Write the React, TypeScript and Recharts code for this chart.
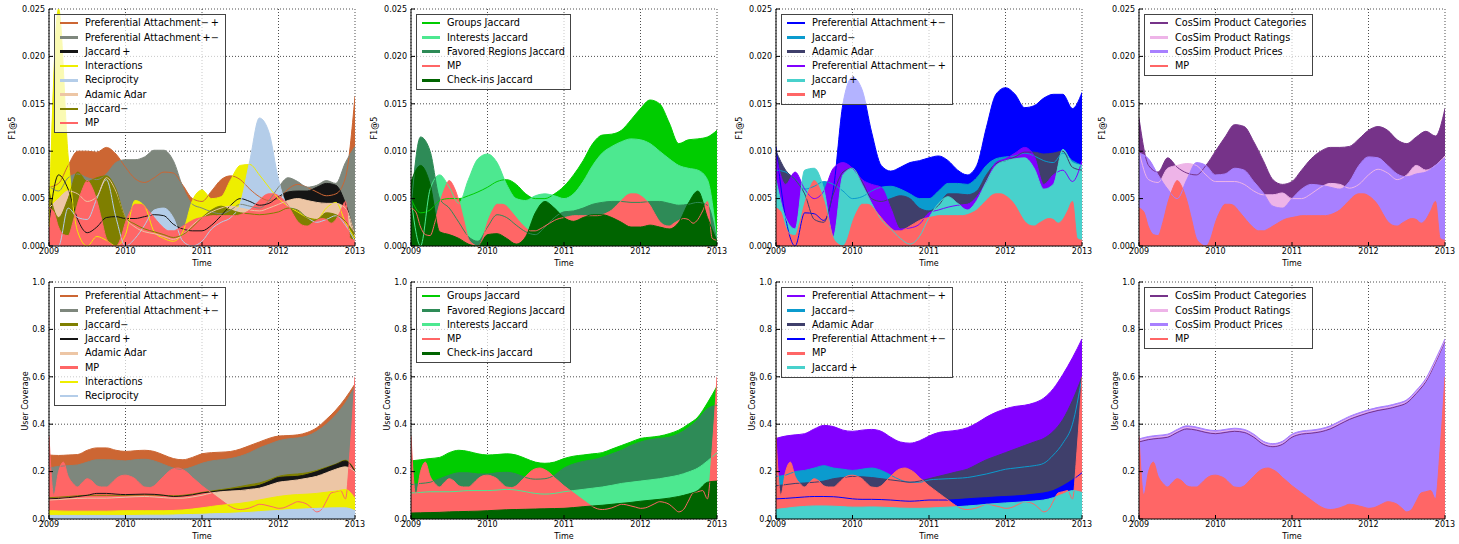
import React from "react";
import { ComposedChart, Area, Line, XAxis, YAxis, CartesianGrid } from "recharts";

const FONT = "'DejaVu Sans', 'Liberation Sans', sans-serif";
const START_YEAR = 2009;
const YEAR_TICKS = [2009, 2010, 2011, 2012, 2013];
const F1_TICKS = [0, 0.005, 0.01, 0.015, 0.02, 0.025];
const COVERAGE_TICKS = [0, 0.2, 0.4, 0.6, 0.8, 1.0];

// arrays are sampled every 1/8 year, MP every 1/16 year, starting at 2009
const COARSE = 1 / 8;
const FINE = 1 / 16;

const PA_MP = "Preferential Attachment\u2212\u2009+";
const PA_PM = "Preferential Attachment\u2009+\u2212";
const JAC_P = "Jaccard\u2009+";
const JAC_M = "Jaccard\u2212";

// ---- F1@5 ----
const MP_F1 = [
  0.0040, 0.0036, 0.0020, 0.0012, 0.0011, 0.0025, 0.0045, 0.0060, 0.0069, 0.0062, 0.0048, 0.0028, 0.0008, 0.0002, 0.0000, 0.0008,
  0.0025, 0.0037, 0.0044, 0.0044, 0.0042, 0.0036, 0.0030, 0.0024, 0.0019, 0.0016, 0.0016, 0.0018, 0.0021, 0.0024, 0.0027, 0.0029,
  0.0030, 0.0031, 0.0032, 0.0032, 0.0032, 0.0032, 0.0032, 0.0032, 0.0033, 0.0035, 0.0038, 0.0043, 0.0048, 0.0053, 0.0055, 0.0055,
  0.0053, 0.0049, 0.0043, 0.0034, 0.0026, 0.0022, 0.0021, 0.0024, 0.0027, 0.0029, 0.0028, 0.0024, 0.0028, 0.0037, 0.0047, 0.0008,
  0.0006,
];

const F1_SOC_PA_MP = [0.0062, 0.0066, 0.0085, 0.0100, 0.0100, 0.0099, 0.0104, 0.0097, 0.0083, 0.0071, 0.0067, 0.0072, 0.0078, 0.0077, 0.0064, 0.0050, 0.0047, 0.0058, 0.0070, 0.0074, 0.0070, 0.0060, 0.0052, 0.0048, 0.0050, 0.0060, 0.0065, 0.0062, 0.0057, 0.0053, 0.0055, 0.0072, 0.0158];
const F1_SOC_PA_PM = [0.0063, 0.0058, 0.0072, 0.0076, 0.0072, 0.0070, 0.0076, 0.0088, 0.0091, 0.0091, 0.0094, 0.0101, 0.0101, 0.0090, 0.0062, 0.0044, 0.0040, 0.0036, 0.0034, 0.0038, 0.0044, 0.0042, 0.0040, 0.0048, 0.0062, 0.0072, 0.0068, 0.0062, 0.0064, 0.0069, 0.0066, 0.0088, 0.0105];
const F1_SOC_JAC_P = [0.0025, 0.0075, 0.0060, 0.0028, 0.0014, 0.0020, 0.0030, 0.0031, 0.0029, 0.0029, 0.0031, 0.0033, 0.0032, 0.0023, 0.0018, 0.0016, 0.0016, 0.0022, 0.0032, 0.0043, 0.0050, 0.0047, 0.0043, 0.0045, 0.0052, 0.0057, 0.0058, 0.0058, 0.0062, 0.0066, 0.0064, 0.0045, 0.0010];
const F1_SOC_INTERACTIONS = [0.0020, 0.0250, 0.0095, 0.0015, 0.0000, 0.0010, 0.0006, 0.0000, 0.0012, 0.0048, 0.0042, 0.0015, 0.0008, 0.0005, 0.0015, 0.0048, 0.0059, 0.0050, 0.0052, 0.0070, 0.0085, 0.0086, 0.0075, 0.0062, 0.0050, 0.0042, 0.0036, 0.0030, 0.0028, 0.0040, 0.0046, 0.0025, 0.0008];
const F1_SOC_RECIPROCITY = [0.0000, 0.0000, 0.0040, 0.0030, 0.0028, 0.0050, 0.0070, 0.0030, 0.0000, 0.0008, 0.0022, 0.0038, 0.0040, 0.0030, 0.0005, 0.0000, 0.0005, 0.0018, 0.0025, 0.0030, 0.0045, 0.0090, 0.0135, 0.0120, 0.0070, 0.0042, 0.0038, 0.0030, 0.0025, 0.0028, 0.0032, 0.0022, 0.0005];
const F1_SOC_ADAMIC = [0.0040, 0.0050, 0.0058, 0.0055, 0.0047, 0.0052, 0.0072, 0.0058, 0.0030, 0.0020, 0.0015, 0.0013, 0.0010, 0.0007, 0.0012, 0.0022, 0.0030, 0.0036, 0.0040, 0.0042, 0.0040, 0.0038, 0.0037, 0.0040, 0.0044, 0.0048, 0.0050, 0.0048, 0.0046, 0.0045, 0.0045, 0.0040, 0.0010];
const F1_SOC_JAC_M = [0.0058, 0.0030, 0.0050, 0.0078, 0.0068, 0.0072, 0.0074, 0.0060, 0.0030, 0.0023, 0.0018, 0.0015, 0.0012, 0.0009, 0.0012, 0.0020, 0.0030, 0.0038, 0.0042, 0.0038, 0.0035, 0.0034, 0.0033, 0.0034, 0.0036, 0.0040, 0.0038, 0.0030, 0.0028, 0.0035, 0.0033, 0.0026, 0.0012];

const F1_LOC_GROUPS = [0.0050, 0.0035, 0.0038, 0.0048, 0.0050, 0.0050, 0.0053, 0.0057, 0.0062, 0.0068, 0.0070, 0.0065, 0.0055, 0.0050, 0.0050, 0.0055, 0.0063, 0.0075, 0.0090, 0.0108, 0.0117, 0.0118, 0.0122, 0.0133, 0.0145, 0.0154, 0.0150, 0.0130, 0.0108, 0.0112, 0.0113, 0.0115, 0.0122];
const F1_LOC_INTERESTS = [0.0050, 0.0000, 0.0060, 0.0075, 0.0062, 0.0045, 0.0070, 0.0092, 0.0097, 0.0088, 0.0065, 0.0050, 0.0048, 0.0053, 0.0055, 0.0053, 0.0050, 0.0055, 0.0068, 0.0085, 0.0098, 0.0105, 0.0110, 0.0113, 0.0112, 0.0108, 0.0100, 0.0092, 0.0085, 0.0082, 0.0080, 0.0070, 0.0005];
const F1_LOC_REGIONS = [0.0040, 0.0115, 0.0100, 0.0050, 0.0040, 0.0025, 0.0010, 0.0005, 0.0020, 0.0033, 0.0030, 0.0022, 0.0015, 0.0012, 0.0020, 0.0030, 0.0036, 0.0037, 0.0040, 0.0044, 0.0046, 0.0047, 0.0047, 0.0046, 0.0046, 0.0047, 0.0047, 0.0045, 0.0043, 0.0044, 0.0046, 0.0043, 0.0005];
const F1_LOC_CHECKINS = [0.0068, 0.0085, 0.0065, 0.0015, 0.0012, 0.0008, 0.0002, 0.0000, 0.0012, 0.0013, 0.0008, 0.0002, 0.0010, 0.0035, 0.0047, 0.0040, 0.0030, 0.0026, 0.0030, 0.0033, 0.0033, 0.0030, 0.0025, 0.0020, 0.0020, 0.0022, 0.0020, 0.0018, 0.0025, 0.0045, 0.0058, 0.0030, 0.0005];

const F1_TOP_PA_PM = [0.0105, 0.0030, 0.0000, 0.0035, 0.0034, 0.0027, 0.0060, 0.0150, 0.0178, 0.0165, 0.0120, 0.0085, 0.0079, 0.0083, 0.0088, 0.0090, 0.0093, 0.0095, 0.0090, 0.0080, 0.0075, 0.0085, 0.0125, 0.0160, 0.0167, 0.0160, 0.0146, 0.0148, 0.0156, 0.0160, 0.0160, 0.0145, 0.0162];
const F1_TOP_JAC_M = [0.0080, 0.0078, 0.0070, 0.0060, 0.0063, 0.0068, 0.0065, 0.0058, 0.0050, 0.0052, 0.0058, 0.0062, 0.0063, 0.0060, 0.0055, 0.0050, 0.0050, 0.0058, 0.0066, 0.0066, 0.0065, 0.0072, 0.0085, 0.0092, 0.0094, 0.0095, 0.0098, 0.0095, 0.0090, 0.0088, 0.0098, 0.0090, 0.0085];
const F1_TOP_ADAMIC = [0.0100, 0.0080, 0.0070, 0.0055, 0.0028, 0.0025, 0.0055, 0.0078, 0.0082, 0.0068, 0.0050, 0.0047, 0.0050, 0.0053, 0.0050, 0.0040, 0.0037, 0.0043, 0.0055, 0.0055, 0.0054, 0.0058, 0.0075, 0.0087, 0.0090, 0.0094, 0.0099, 0.0099, 0.0097, 0.0098, 0.0100, 0.0083, 0.0080];
const F1_TOP_PA_MP = [0.0095, 0.0065, 0.0078, 0.0060, 0.0050, 0.0058, 0.0082, 0.0088, 0.0082, 0.0070, 0.0065, 0.0062, 0.0040, 0.0018, 0.0019, 0.0023, 0.0035, 0.0038, 0.0041, 0.0043, 0.0044, 0.0052, 0.0068, 0.0088, 0.0092, 0.0098, 0.0104, 0.0095, 0.0065, 0.0075, 0.0080, 0.0068, 0.0090];
const F1_TOP_JAC_P = [0.0070, 0.0030, 0.0018, 0.0080, 0.0082, 0.0060, 0.0010, 0.0075, 0.0082, 0.0065, 0.0045, 0.0028, 0.0018, 0.0008, 0.0002, 0.0010, 0.0030, 0.0045, 0.0052, 0.0045, 0.0038, 0.0048, 0.0068, 0.0085, 0.0090, 0.0092, 0.0093, 0.0082, 0.0060, 0.0065, 0.0102, 0.0088, 0.0085];

const F1_PROD_CATEGORIES = [0.0135, 0.0085, 0.0078, 0.0093, 0.0083, 0.0077, 0.0075, 0.0085, 0.0100, 0.0115, 0.0128, 0.0126, 0.0110, 0.0090, 0.0070, 0.0065, 0.0068, 0.0080, 0.0092, 0.0100, 0.0104, 0.0104, 0.0105, 0.0113, 0.0122, 0.0126, 0.0122, 0.0112, 0.0108, 0.0115, 0.0121, 0.0116, 0.0145];
const F1_PROD_RATINGS = [0.0100, 0.0070, 0.0067, 0.0082, 0.0085, 0.0087, 0.0085, 0.0075, 0.0068, 0.0068, 0.0068, 0.0065, 0.0058, 0.0054, 0.0054, 0.0056, 0.0050, 0.0050, 0.0055, 0.0062, 0.0066, 0.0065, 0.0061, 0.0065, 0.0075, 0.0081, 0.0077, 0.0070, 0.0075, 0.0085, 0.0080, 0.0085, 0.0095];
const F1_PROD_PRICES = [0.0098, 0.0092, 0.0075, 0.0060, 0.0050, 0.0070, 0.0088, 0.0085, 0.0075, 0.0076, 0.0082, 0.0080, 0.0068, 0.0056, 0.0042, 0.0040, 0.0050, 0.0060, 0.0065, 0.0064, 0.0062, 0.0060, 0.0068, 0.0085, 0.0094, 0.0093, 0.0085, 0.0076, 0.0073, 0.0076, 0.0078, 0.0085, 0.0093];

// ---- User Coverage ----
const MP_COVERAGE = [
  0.35, 0.10, 0.20, 0.24, 0.18, 0.15, 0.135, 0.155, 0.17, 0.16, 0.14, 0.135, 0.135, 0.15, 0.17, 0.182,
  0.185, 0.18, 0.17, 0.15, 0.135, 0.133, 0.14, 0.16, 0.18, 0.20, 0.212, 0.215, 0.208, 0.195, 0.175, 0.158,
  0.14, 0.125, 0.11, 0.095, 0.08, 0.065, 0.052, 0.043, 0.04, 0.042, 0.047, 0.055, 0.062, 0.06, 0.055, 0.05,
  0.045, 0.047, 0.055, 0.065, 0.073, 0.07, 0.062, 0.045, 0.03, 0.04, 0.075, 0.11, 0.115, 0.12, 0.085, 0.30,
  0.60,
];

const COV_SOC_PA_MP = [0.270, 0.268, 0.270, 0.272, 0.290, 0.300, 0.300, 0.290, 0.285, 0.288, 0.290, 0.285, 0.270, 0.255, 0.250, 0.260, 0.275, 0.280, 0.282, 0.285, 0.295, 0.310, 0.325, 0.340, 0.350, 0.352, 0.355, 0.365, 0.385, 0.420, 0.460, 0.510, 0.570];
const COV_SOC_PA_PM = [0.215, 0.222, 0.225, 0.228, 0.240, 0.250, 0.250, 0.248, 0.245, 0.250, 0.252, 0.245, 0.230, 0.215, 0.210, 0.220, 0.235, 0.245, 0.250, 0.255, 0.265, 0.280, 0.300, 0.315, 0.330, 0.338, 0.342, 0.350, 0.370, 0.400, 0.440, 0.490, 0.560];
const COV_SOC_JAC_M = [0.090, 0.092, 0.095, 0.098, 0.100, 0.100, 0.100, 0.100, 0.100, 0.101, 0.102, 0.101, 0.100, 0.098, 0.100, 0.105, 0.112, 0.118, 0.124, 0.130, 0.137, 0.145, 0.152, 0.165, 0.180, 0.187, 0.190, 0.195, 0.205, 0.218, 0.232, 0.248, 0.205];
const COV_SOC_JAC_P = [0.085, 0.087, 0.090, 0.095, 0.100, 0.108, 0.108, 0.105, 0.103, 0.104, 0.105, 0.104, 0.100, 0.095, 0.097, 0.102, 0.110, 0.115, 0.120, 0.125, 0.130, 0.135, 0.142, 0.158, 0.175, 0.178, 0.180, 0.188, 0.200, 0.215, 0.230, 0.245, 0.200];
const COV_SOC_ADAMIC = [0.080, 0.082, 0.085, 0.087, 0.088, 0.088, 0.088, 0.090, 0.092, 0.094, 0.095, 0.093, 0.090, 0.088, 0.088, 0.093, 0.100, 0.110, 0.115, 0.118, 0.120, 0.125, 0.130, 0.142, 0.155, 0.160, 0.165, 0.172, 0.180, 0.195, 0.210, 0.220, 0.200];
const COV_SOC_INTERACTIONS = [0.035, 0.034, 0.033, 0.033, 0.033, 0.033, 0.033, 0.034, 0.035, 0.035, 0.035, 0.035, 0.035, 0.036, 0.038, 0.042, 0.047, 0.053, 0.058, 0.062, 0.066, 0.072, 0.080, 0.088, 0.095, 0.100, 0.103, 0.105, 0.108, 0.113, 0.118, 0.124, 0.087];
const COV_SOC_RECIPROCITY = [0.015, 0.015, 0.015, 0.015, 0.015, 0.015, 0.015, 0.015, 0.015, 0.015, 0.016, 0.016, 0.016, 0.017, 0.018, 0.019, 0.020, 0.022, 0.023, 0.024, 0.026, 0.028, 0.031, 0.034, 0.036, 0.039, 0.041, 0.043, 0.045, 0.046, 0.047, 0.047, 0.035];

const COV_LOC_GROUPS = [0.245, 0.250, 0.255, 0.260, 0.280, 0.290, 0.285, 0.275, 0.270, 0.272, 0.275, 0.270, 0.255, 0.240, 0.235, 0.240, 0.255, 0.265, 0.270, 0.275, 0.280, 0.295, 0.310, 0.325, 0.340, 0.345, 0.350, 0.360, 0.375, 0.400, 0.430, 0.490, 0.560];
const COV_LOC_REGIONS = [0.145, 0.150, 0.155, 0.170, 0.185, 0.195, 0.195, 0.190, 0.190, 0.195, 0.197, 0.190, 0.175, 0.168, 0.170, 0.185, 0.215, 0.232, 0.243, 0.250, 0.260, 0.275, 0.290, 0.310, 0.325, 0.335, 0.340, 0.345, 0.360, 0.385, 0.420, 0.465, 0.480];
const COV_LOC_INTERESTS = [0.110, 0.112, 0.115, 0.115, 0.115, 0.117, 0.120, 0.120, 0.120, 0.122, 0.125, 0.122, 0.115, 0.108, 0.105, 0.108, 0.115, 0.120, 0.125, 0.130, 0.135, 0.142, 0.150, 0.155, 0.160, 0.165, 0.170, 0.177, 0.185, 0.198, 0.215, 0.245, 0.280];
const COV_LOC_CHECKINS = [0.025, 0.026, 0.027, 0.028, 0.030, 0.031, 0.032, 0.033, 0.035, 0.037, 0.039, 0.040, 0.041, 0.042, 0.043, 0.044, 0.045, 0.048, 0.052, 0.055, 0.058, 0.062, 0.066, 0.070, 0.075, 0.079, 0.083, 0.088, 0.095, 0.105, 0.120, 0.155, 0.160];

const COV_TOP_PA_MP = [0.340, 0.350, 0.355, 0.360, 0.380, 0.395, 0.390, 0.375, 0.370, 0.375, 0.378, 0.370, 0.345, 0.325, 0.320, 0.330, 0.350, 0.365, 0.370, 0.375, 0.385, 0.405, 0.430, 0.450, 0.465, 0.475, 0.480, 0.490, 0.510, 0.550, 0.610, 0.680, 0.760];
const COV_TOP_JAC_M = [0.180, 0.185, 0.200, 0.205, 0.215, 0.225, 0.215, 0.210, 0.205, 0.210, 0.215, 0.205, 0.185, 0.165, 0.155, 0.155, 0.165, 0.168, 0.170, 0.172, 0.175, 0.182, 0.190, 0.200, 0.210, 0.215, 0.220, 0.225, 0.235, 0.270, 0.320, 0.400, 0.600];
const COV_TOP_ADAMIC = [0.140, 0.145, 0.150, 0.152, 0.155, 0.160, 0.170, 0.175, 0.180, 0.178, 0.175, 0.170, 0.165, 0.160, 0.155, 0.160, 0.170, 0.180, 0.190, 0.200, 0.210, 0.230, 0.250, 0.265, 0.280, 0.295, 0.310, 0.325, 0.340, 0.370, 0.420, 0.500, 0.600];
const COV_TOP_PA_PM = [0.085, 0.087, 0.090, 0.093, 0.095, 0.095, 0.094, 0.090, 0.085, 0.083, 0.083, 0.082, 0.080, 0.077, 0.075, 0.077, 0.080, 0.080, 0.080, 0.082, 0.085, 0.088, 0.090, 0.093, 0.095, 0.097, 0.100, 0.105, 0.110, 0.120, 0.140, 0.165, 0.195];
const COV_TOP_JAC_P = [0.040, 0.045, 0.050, 0.053, 0.055, 0.055, 0.054, 0.052, 0.050, 0.050, 0.051, 0.050, 0.048, 0.046, 0.045, 0.045, 0.046, 0.048, 0.050, 0.052, 0.055, 0.058, 0.062, 0.065, 0.068, 0.070, 0.073, 0.076, 0.080, 0.090, 0.105, 0.120, 0.112];

const COV_PROD_CATEGORIES = [0.325, 0.335, 0.340, 0.345, 0.365, 0.380, 0.375, 0.365, 0.360, 0.365, 0.370, 0.365, 0.345, 0.315, 0.305, 0.315, 0.345, 0.358, 0.362, 0.368, 0.380, 0.400, 0.420, 0.435, 0.448, 0.458, 0.465, 0.475, 0.490, 0.530, 0.580, 0.660, 0.750];
const COV_PROD_RATINGS = [0.331, 0.341, 0.346, 0.351, 0.371, 0.386, 0.381, 0.371, 0.366, 0.371, 0.376, 0.371, 0.351, 0.321, 0.311, 0.321, 0.351, 0.364, 0.368, 0.374, 0.386, 0.406, 0.426, 0.441, 0.454, 0.464, 0.471, 0.481, 0.496, 0.536, 0.586, 0.666, 0.755];
const COV_PROD_PRICES = [0.338, 0.348, 0.353, 0.358, 0.378, 0.393, 0.388, 0.378, 0.373, 0.378, 0.383, 0.378, 0.358, 0.328, 0.318, 0.328, 0.358, 0.371, 0.375, 0.381, 0.393, 0.413, 0.433, 0.448, 0.461, 0.471, 0.478, 0.488, 0.503, 0.543, 0.593, 0.673, 0.760];

const C = {
  paMpSoc: "#cc6633",
  paPmSoc: "#7e877d",
  jacPSoc: "#151515",
  interactions: "#eeee00",
  reciprocity: "#b4cde9",
  adamicSoc: "#edc6a5",
  jacMSoc: "#7f7f00",
  mp: "#ff6666",
  groups: "#00cc00",
  interests: "#4de890",
  regions: "#2e8b57",
  checkins: "#006400",
  paPm: "#0000ff",
  jacM: "#0b9bce",
  adamic: "#3f3f6b",
  paMp: "#8000ff",
  jacP: "#48d1cc",
  categories: "#763389",
  ratings: "#eeb4e8",
  prices: "#a880ff",
};

type Series = { name: string; color: string; values: number[]; step?: number };

const mpF1: Series = { name: "MP", color: C.mp, values: MP_F1, step: FINE };
const mpCov: Series = { name: "MP", color: C.mp, values: MP_COVERAGE, step: FINE };

const PANELS = [
  {
    row: 0, col: 0, legendWidth: 172,
    series: [
      { name: PA_MP, color: C.paMpSoc, values: F1_SOC_PA_MP },
      { name: PA_PM, color: C.paPmSoc, values: F1_SOC_PA_PM },
      { name: JAC_P, color: C.jacPSoc, values: F1_SOC_JAC_P },
      { name: "Interactions", color: C.interactions, values: F1_SOC_INTERACTIONS },
      { name: "Reciprocity", color: C.reciprocity, values: F1_SOC_RECIPROCITY },
      { name: "Adamic Adar", color: C.adamicSoc, values: F1_SOC_ADAMIC },
      { name: JAC_M, color: C.jacMSoc, values: F1_SOC_JAC_M },
      mpF1,
    ],
  },
  {
    row: 0, col: 1, legendWidth: 155,
    series: [
      { name: "Groups Jaccard", color: C.groups, values: F1_LOC_GROUPS },
      { name: "Interests Jaccard", color: C.interests, values: F1_LOC_INTERESTS },
      { name: "Favored Regions Jaccard", color: C.regions, values: F1_LOC_REGIONS },
      mpF1,
      { name: "Check-ins Jaccard", color: C.checkins, values: F1_LOC_CHECKINS },
    ],
  },
  {
    row: 0, col: 2, legendWidth: 172,
    series: [
      { name: PA_PM, color: C.paPm, values: F1_TOP_PA_PM },
      { name: JAC_M, color: C.jacM, values: F1_TOP_JAC_M },
      { name: "Adamic Adar", color: C.adamic, values: F1_TOP_ADAMIC },
      { name: PA_MP, color: C.paMp, values: F1_TOP_PA_MP },
      { name: JAC_P, color: C.jacP, values: F1_TOP_JAC_P },
      mpF1,
    ],
  },
  {
    row: 0, col: 3, legendWidth: 169,
    series: [
      { name: "CosSim Product Categories", color: C.categories, values: F1_PROD_CATEGORIES },
      { name: "CosSim Product Ratings", color: C.ratings, values: F1_PROD_RATINGS },
      { name: "CosSim Product Prices", color: C.prices, values: F1_PROD_PRICES },
      mpF1,
    ],
  },
  {
    row: 1, col: 0, legendWidth: 172,
    series: [
      { name: PA_MP, color: C.paMpSoc, values: COV_SOC_PA_MP },
      { name: PA_PM, color: C.paPmSoc, values: COV_SOC_PA_PM },
      { name: JAC_M, color: C.jacMSoc, values: COV_SOC_JAC_M },
      { name: JAC_P, color: C.jacPSoc, values: COV_SOC_JAC_P },
      { name: "Adamic Adar", color: C.adamicSoc, values: COV_SOC_ADAMIC },
      mpCov,
      { name: "Interactions", color: C.interactions, values: COV_SOC_INTERACTIONS },
      { name: "Reciprocity", color: C.reciprocity, values: COV_SOC_RECIPROCITY },
    ],
  },
  {
    row: 1, col: 1, legendWidth: 155,
    series: [
      { name: "Groups Jaccard", color: C.groups, values: COV_LOC_GROUPS },
      { name: "Favored Regions Jaccard", color: C.regions, values: COV_LOC_REGIONS },
      { name: "Interests Jaccard", color: C.interests, values: COV_LOC_INTERESTS },
      mpCov,
      { name: "Check-ins Jaccard", color: C.checkins, values: COV_LOC_CHECKINS },
    ],
  },
  {
    row: 1, col: 2, legendWidth: 172,
    series: [
      { name: PA_MP, color: C.paMp, values: COV_TOP_PA_MP },
      { name: JAC_M, color: C.jacM, values: COV_TOP_JAC_M },
      { name: "Adamic Adar", color: C.adamic, values: COV_TOP_ADAMIC },
      { name: PA_PM, color: C.paPm, values: COV_TOP_PA_PM },
      mpCov,
      { name: JAC_P, color: C.jacP, values: COV_TOP_JAC_P },
    ],
  },
  {
    row: 1, col: 3, legendWidth: 169,
    series: [
      { name: "CosSim Product Categories", color: C.categories, values: COV_PROD_CATEGORIES },
      { name: "CosSim Product Ratings", color: C.ratings, values: COV_PROD_RATINGS },
      { name: "CosSim Product Prices", color: C.prices, values: COV_PROD_PRICES },
      mpCov,
    ],
  },
];

const PLOT_LEFT = [49, 411, 776, 1139];
const PLOT_TOP = [9, 282];
const PLOT_W = 306;
const PLOT_H = 237;
const AXIS_W = 45;
const RIGHT_PAD = 16;

// one row per sampled x, series that are not sampled there are left empty
function buildRows(series: Series[]) {
  const map = new Map<number, any>();
  series.forEach((s, si) => {
    const step = s.step ?? COARSE;
    s.values.forEach((v, i) => {
      const x = +(START_YEAR + i * step).toFixed(4);
      if (!map.has(x)) map.set(x, { x });
      map.get(x)["s" + si] = v;
    });
  });
  return [...map.values()].sort((a, b) => a.x - b.x);
}

function LegendBox({ left, top, width, items }: { left: number; top: number; width: number; items: Series[] }) {
  return (
    <div
      style={{
        position: "absolute", left, top, width, boxSizing: "border-box",
        border: "1px solid #444", background: "rgba(255,255,255,0.7)",
        padding: "1px 0 2px 0", fontFamily: FONT, fontSize: 9.7, color: "#000",
      }}
    >
      {items.map((s) => (
        <div key={s.name} style={{ display: "flex", alignItems: "center", height: 14.3 }}>
          <span style={{ width: 18, height: 2.5, background: s.color, marginLeft: 5, marginRight: 7, flex: "none" }} />
          <span style={{ whiteSpace: "nowrap", lineHeight: 1 }}>{s.name}</span>
        </div>
      ))}
    </div>
  );
}

function Panel({ row, col, series, legendWidth }: { row: number; col: number; series: Series[]; legendWidth: number }) {
  const left = PLOT_LEFT[col];
  const top = PLOT_TOP[row];
  const isF1 = row === 0;
  const max = isF1 ? 0.025 : 1;
  const ticks = isF1 ? F1_TICKS : COVERAGE_TICKS;
  const fmt = (v: number) => (isF1 ? v.toFixed(3) : v.toFixed(1));
  const rows = buildRows(series);
  const tickStyle = { fill: "#000", fontSize: 8, fontFamily: FONT };

  return (
    <>
      <div style={{ position: "absolute", left: left - AXIS_W, top: top - 5 }}>
        <ComposedChart
          width={AXIS_W + PLOT_W + RIGHT_PAD}
          height={5 + PLOT_H + 30}
          data={rows}
          margin={{ top: 5, right: RIGHT_PAD, bottom: 0, left: 0 }}
        >
          <XAxis
            dataKey="x" type="number" domain={[2009, 2013]} ticks={YEAR_TICKS} height={30}
            stroke="#000" tick={tickStyle} tickSize={-4} tickMargin={6} allowDataOverflow
          />
          <XAxis
            xAxisId="top" orientation="top" dataKey="x" type="number" domain={[2009, 2013]}
            ticks={YEAR_TICKS} height={0} stroke="#000" tick={false} tickSize={-4} allowDataOverflow
          />
          <YAxis
            type="number" domain={[0, max]} ticks={ticks} width={AXIS_W} stroke="#000"
            tick={tickStyle} tickFormatter={fmt} tickSize={-4} tickMargin={8} allowDataOverflow
          />
          <YAxis
            yAxisId="right" orientation="right" type="number" domain={[0, max]} ticks={ticks}
            width={0} stroke="#000" tick={false} tickSize={-4} allowDataOverflow
          />
          {series.map((s, i) => (
            <Area
              key={"a" + i}
              type="monotone"
              dataKey={"s" + i}
              fill={s.color}
              fillOpacity={1}
              stroke="none"
              connectNulls
              isAnimationActive={false}
            />
          ))}
          {series.map((s, i) => (
            <Line
              key={"l" + i}
              type="monotone"
              dataKey={"s" + i}
              stroke={s.color}
              strokeWidth={1}
              dot={false}
              connectNulls
              isAnimationActive={false}
            />
          ))}
          <CartesianGrid stroke="#000" strokeDasharray="1 2" strokeWidth={0.7} />
        </ComposedChart>
      </div>
      <LegendBox left={left + 5} top={top + 5} width={legendWidth} items={series} />
      <div
        style={{
          position: "absolute", left: left + PLOT_W / 2, top: top + PLOT_H + 17,
          transform: "translate(-50%, -50%)", fontFamily: FONT, fontSize: 8, whiteSpace: "nowrap",
        }}
      >
        Time
      </div>
      <div
        style={{
          position: "absolute", left: left - (isF1 ? 37 : 24), top: top + PLOT_H / 2,
          transform: "translate(-50%, -50%) rotate(-90deg)", fontFamily: FONT, fontSize: 8, whiteSpace: "nowrap",
        }}
      >
        {isF1 ? "F1@5" : "User Coverage"}
      </div>
    </>
  );
}

export default function App() {
  return (
    <div style={{ position: "absolute", left: 0, top: 0, width: 1459, height: 544, background: "#fff", overflow: "hidden" }}>
      {PANELS.map((p, i) => (
        <Panel key={i} row={p.row} col={p.col} series={p.series} legendWidth={p.legendWidth} />
      ))}
    </div>
  );
}
